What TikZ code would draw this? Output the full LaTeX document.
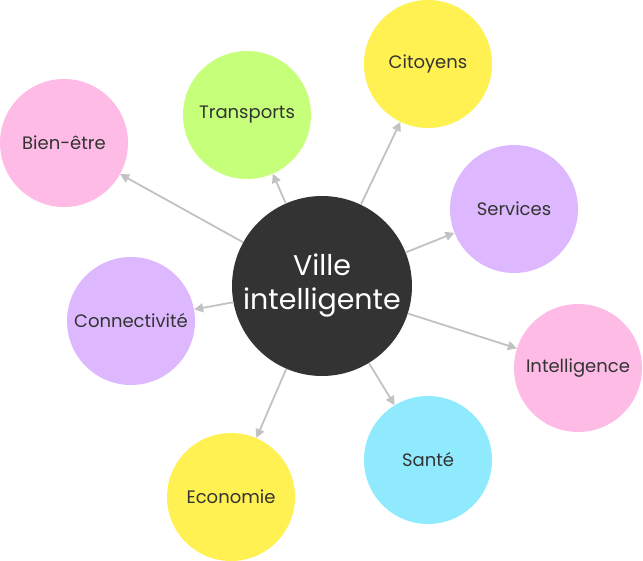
\documentclass[tikz,border=0pt]{standalone}
\usepackage{fontspec}
\setmainfont{Poppins}
\usetikzlibrary{arrows.meta}

\definecolor{hubgray}{HTML}{333333}
\definecolor{labelgray}{HTML}{333333}
\definecolor{linkgray}{HTML}{C2C2C2}
\definecolor{pinkfill}{HTML}{FDBBE5}
\definecolor{greenfill}{HTML}{C6FF7A}
\definecolor{yellowfill}{HTML}{FFF152}
\definecolor{lilacfill}{HTML}{DDB8FE}
\definecolor{cyanfill}{HTML}{90EAFD}

\begin{document}
\begin{tikzpicture}[
  x=1pt, y=-1pt,
  hub/.style={circle, fill=hubgray, text=white, minimum size=180pt, inner sep=0pt, align=center, font=\fontsize{28.5}{34}\selectfont},
  topic/.style={circle, minimum size=128pt, inner sep=0pt, text=labelgray, font=\fontsize{18}{21}\selectfont},
  link/.style={draw=linkgray, line width=1.8pt, -{Triangle[length=9pt,width=9pt]}}
]
  \useasboundingbox (0,0) rectangle (643,561);

  \node[hub] (ville) at (322,286) {Ville\\intelligente};

  \node[topic, fill=pinkfill]   (bienetre)     at (64,143)  {Bien-être};
  \node[topic, fill=greenfill]  (transports)   at (247,115) {Transports};
  \node[topic, fill=yellowfill] (citoyens)     at (428,64)  {Citoyens};
  \node[topic, fill=lilacfill]  (services)     at (514,209) {Services};
  \node[topic, fill=pinkfill]   (intelligence) at (578,368) {Intelligence};
  \node[topic, fill=cyanfill]   (sante)        at (428,460) {Santé};
  \node[topic, fill=yellowfill] (economie)     at (231,497) {Economie};
  \node[topic, fill=lilacfill]  (connect)      at (131,321) {Connectivité};

  \foreach \n in {bienetre, transports, citoyens, services, intelligence, sante, economie, connect}
    \draw[link] (ville) -- (\n);
\end{tikzpicture}
\end{document}
